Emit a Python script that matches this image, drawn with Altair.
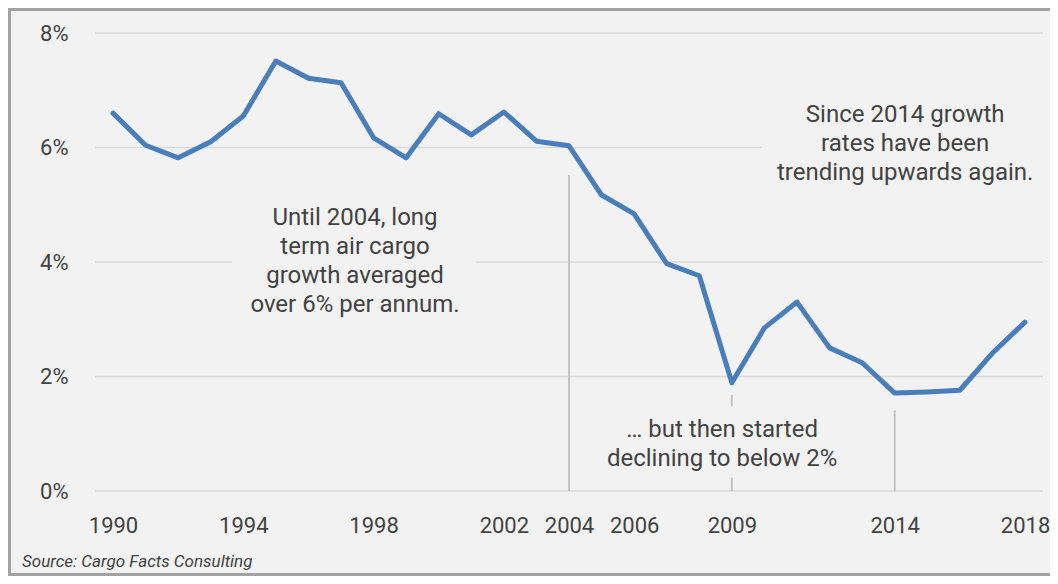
import altair as alt
import pandas as pd

# ---- data ----
years = list(range(1990, 2019))
growth = [6.60, 6.04, 5.82, 6.10, 6.55, 7.51, 7.21, 7.13, 6.17, 5.82,
          6.59, 6.22, 6.62, 6.11, 6.03, 5.17, 4.84, 3.97, 3.76, 1.89,
          2.85, 3.30, 2.50, 2.24, 1.71, 1.73, 1.76, 2.41, 2.95]
x_ticks = [1990, 1994, 1998, 2002, 2004, 2006, 2009, 2014, 2018]
y_ticks = [0, 2, 4, 6, 8]

marker_years = [2004, 2009, 2014]
marker_tops = [5.52, 1.68, 1.41]

note_texts = ["Until 2004, long\nterm air cargo\ngrowth averaged\nover 6% per annum.",
              "Since 2014 growth\nrates have been\ntrending upwards again.",
              "\u2026 but then started\ndeclining to below 2%"]
note_x = [1997.43, 2014.32, 2008.7]
note_y = [4.77, 6.57, 1.06]   # first-line anchor

# background boxes behind the notes (mask grid / marker lines)
mask_x = [1993.65, 2009.93, 2005.0]
mask_x2 = [2001.14, 2018.75, 2012.4]
mask_y = [3.0, 5.26, 0.23]
mask_y2 = [5.1, 6.9, 1.48]

source_text = "Source: Cargo Facts Consulting"

# ---- tables ----
df = pd.DataFrame({"year": years, "growth": growth})
grid_df = pd.DataFrame({"v": y_ticks})
mark_df = pd.DataFrame({"year": marker_years, "top": marker_tops, "zero": [0] * 3})
note_df = pd.DataFrame({"x": note_x, "y": note_y, "t": note_texts})
mask_df = pd.DataFrame({"x": mask_x, "x2": mask_x2, "y": mask_y, "y2": mask_y2})
one = pd.DataFrame({"a": [0]})

W, H = 1042, 568
BG = "#f2f2f2"
TXT = "#424242"
FONT = "Roboto"

X = alt.Scale(domain=[1986.776, 2018.767], nice=False, zero=False)
Y = alt.Scale(domain=[-1.4847, 8.4367], nice=False, zero=False)

XA = alt.Axis(values=x_ticks, format="d", grid=False, ticks=False, domain=False, title=None,
              labelFont=FONT, labelFontSize=22, labelColor=TXT, labelPadding=0,
              labelBaseline="middle", offset=-51, labelOverlap=False, labelFlush=False)
YA = alt.Axis(values=y_ticks, labelExpr="datum.value + '%'", grid=False, ticks=False,
              domain=False, title=None, labelFont=FONT, labelFontSize=22, labelColor=TXT,
              labelPadding=0, labelAlign="right", labelBaseline="middle", offset=-60)

grid = alt.Chart(grid_df).mark_rule(color="#dadada", strokeWidth=1.6).encode(
    y=alt.Y("v:Q", scale=Y, axis=YA),
    x=alt.value(87), x2=alt.value(1035),
)

markers = alt.Chart(mark_df).mark_rule(color="#c4c4c4", strokeWidth=2).encode(
    x=alt.X("year:Q", scale=X, axis=XA),
    y=alt.Y("top:Q", scale=Y, axis=YA),
    y2="zero:Q",
)

masks = alt.Chart(mask_df).mark_rect(color=BG).encode(
    x=alt.X("x:Q", scale=X, axis=XA), x2="x2:Q",
    y=alt.Y("y:Q", scale=Y, axis=YA), y2="y2:Q",
)

line = alt.Chart(df).mark_line(color="#4a7ebb", strokeWidth=5, strokeJoin="round", strokeCap="round").encode(
    x=alt.X("year:Q", scale=X, axis=XA),
    y=alt.Y("growth:Q", scale=Y, axis=YA),
)

notes = alt.Chart(note_df).mark_text(
    lineBreak="\n", lineHeight=29, font=FONT, fontSize=24, color=TXT,
    align="center", baseline="middle",
).encode(
    x=alt.X("x:Q", scale=X, axis=XA),
    y=alt.Y("y:Q", scale=Y, axis=YA),
    text="t:N",
)

source = alt.Chart(one).mark_text(
    font=FONT, fontSize=17, fontStyle="italic", color=TXT, align="left", baseline="middle",
).encode(x=alt.value(14), y=alt.value(554), text=alt.value(source_text))

border_col = "#a3a3a3"
b_left = alt.Chart(one).mark_rule(color=border_col, strokeWidth=3).encode(
    x=alt.value(1.5), y=alt.value(0), y2=alt.value(H))
b_top = alt.Chart(one).mark_rule(color=border_col, strokeWidth=3).encode(
    y=alt.value(1.5), x=alt.value(0), x2=alt.value(W))
b_bottom = alt.Chart(one).mark_rule(color=border_col, strokeWidth=3).encode(
    y=alt.value(H - 1.5), x=alt.value(0), x2=alt.value(W))

chart = alt.layer(grid, markers, masks, line, notes, source, b_left, b_top, b_bottom).properties(
    width=W, height=H,
    autosize=alt.AutoSizeParams(type="none"),
    padding=0,
    background="white",
).configure_view(stroke="transparent", fill=BG)

chart.save("out.html", embed_options={"renderer": "svg", "actions": False})
